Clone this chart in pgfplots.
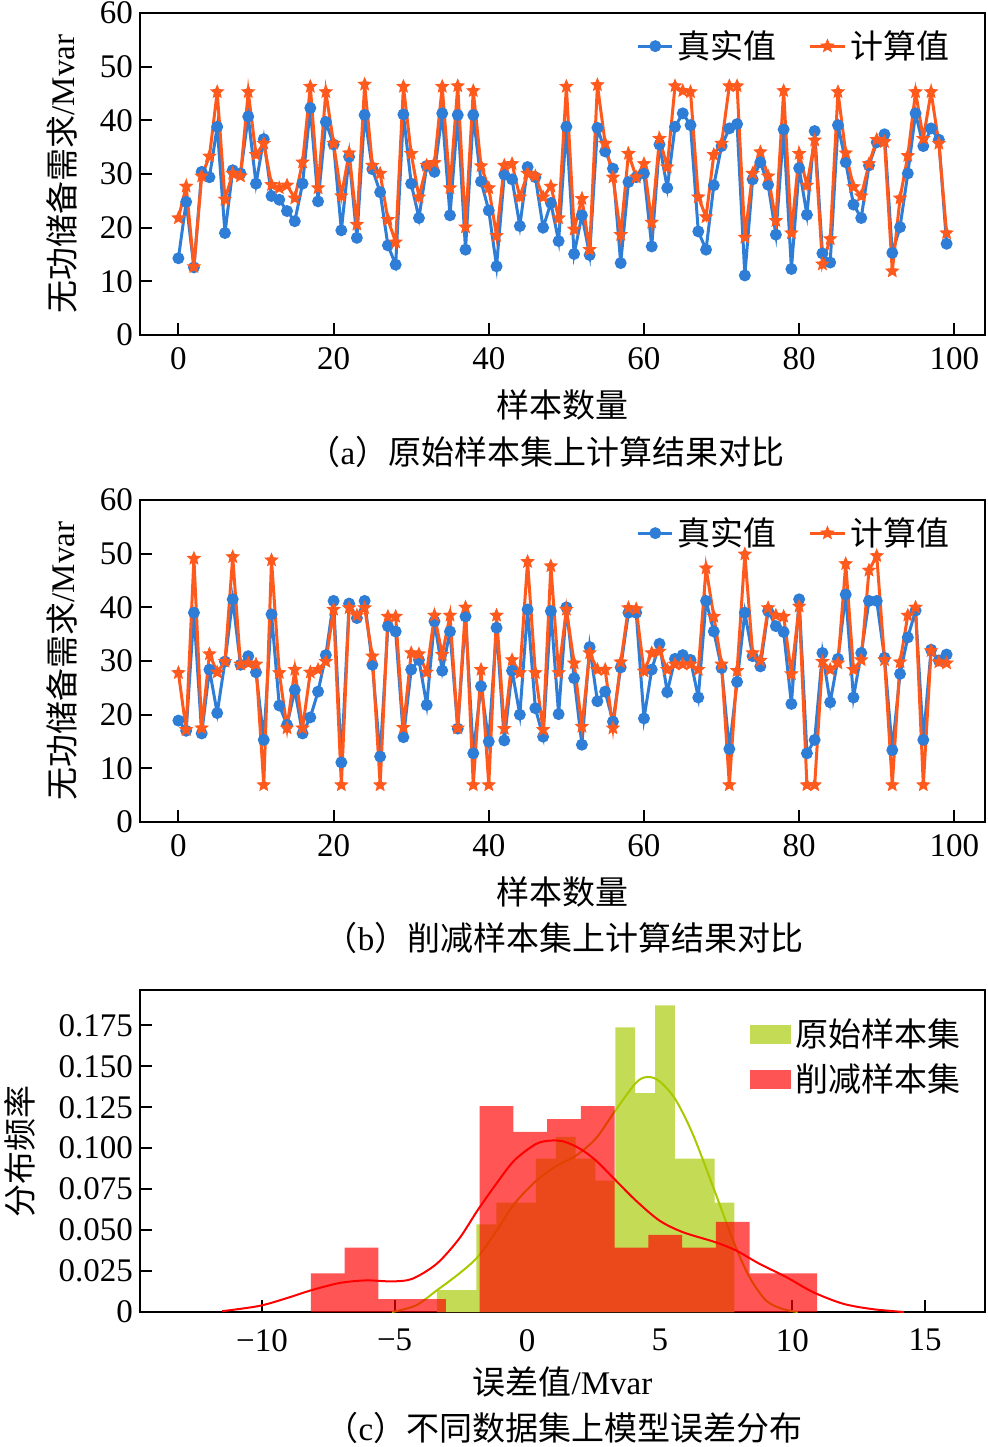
\documentclass[border=0pt]{standalone}
\usepackage{fontspec}
\setmainfont{Liberation Serif}
\newfontfamily\cjk{Noto Sans CJK SC}
\usepackage{pgfplots}
\usepackage{pgfplotstable}
\pgfplotsset{compat=1.18}
\definecolor{cblue}{RGB}{46,125,215}
\definecolor{corange}{RGB}{255,90,30}
\definecolor{hgreen}{RGB}{196,220,85}
\definecolor{kgreen}{RGB}{170,200,0}
\newcommand\fs{\fontsize{16.5}{19}\selectfont}

\pgfdeclareplotmark{fstar}{%
  \pgfpathmoveto{\pgfqpointpolar{90}{\pgfplotmarksize}}%
  \pgfpathlineto{\pgfqpointpolar{126}{0.45\pgfplotmarksize}}%
  \pgfpathlineto{\pgfqpointpolar{162}{\pgfplotmarksize}}%
  \pgfpathlineto{\pgfqpointpolar{198}{0.45\pgfplotmarksize}}%
  \pgfpathlineto{\pgfqpointpolar{234}{\pgfplotmarksize}}%
  \pgfpathlineto{\pgfqpointpolar{270}{0.45\pgfplotmarksize}}%
  \pgfpathlineto{\pgfqpointpolar{306}{\pgfplotmarksize}}%
  \pgfpathlineto{\pgfqpointpolar{342}{0.45\pgfplotmarksize}}%
  \pgfpathlineto{\pgfqpointpolar{18}{\pgfplotmarksize}}%
  \pgfpathlineto{\pgfqpointpolar{54}{0.45\pgfplotmarksize}}%
  \pgfpathclose
  \pgfusepathqfillstroke
}

\pgfplotstableread{
x at ac bt bc
0 14.3 21.8 18.9 27.8
1 24.8 27.7 17.0 17.2
2 12.6 12.7 39.0 49.1
3 30.4 29.6 16.5 17.5
4 29.4 33.3 28.4 31.3
5 38.8 45.3 20.3 27.9
6 19.0 25.3 29.9 29.9
7 30.7 30.1 41.5 49.4
8 30.1 29.6 29.3 29.4
9 40.7 45.3 30.9 29.6
10 28.2 33.6 27.9 29.4
11 36.5 35.7 15.3 6.9
12 25.9 28.0 38.7 48.8
13 25.2 27.4 21.7 27.8
14 23.1 27.9 18.1 17.5
15 21.2 25.5 24.6 28.4
16 28.2 32.2 16.5 17.5
17 42.3 46.3 19.5 27.9
18 24.9 27.4 24.3 28.4
19 39.7 45.3 31.1 29.9
20 35.5 35.7 41.2 39.6
21 19.5 25.9 11.1 6.9
22 33.2 33.9 40.7 39.9
23 18.1 20.6 38.0 38.5
24 41.0 46.7 41.2 39.9
25 30.9 31.6 29.3 30.9
26 26.6 30.1 12.2 6.9
27 16.7 21.5 36.5 38.3
28 13.1 17.3 35.5 38.3
29 41.1 46.3 15.8 17.6
30 28.2 33.8 28.4 31.5
31 21.8 25.7 30.2 31.3
32 31.5 31.6 21.8 27.9
33 30.4 32.1 37.4 38.5
34 41.3 46.3 28.2 31.2
35 22.3 27.4 35.5 38.5
36 41.0 46.4 17.4 17.5
37 15.9 20.1 38.3 40.0
38 41.0 45.5 12.8 6.9
39 28.6 31.5 25.3 28.4
40 23.2 27.4 15.0 6.9
41 12.8 18.5 36.2 38.5
42 29.9 31.6 15.2 17.4
43 29.0 31.9 28.2 30.2
44 20.3 25.7 20.0 27.8
45 31.3 30.1 39.6 48.5
46 29.4 29.6 21.2 27.8
47 20.0 25.7 15.9 17.2
48 24.6 27.7 39.3 47.7
49 17.5 21.8 20.1 27.8
50 38.8 46.3 40.0 39.6
51 15.1 19.7 26.8 29.6
52 22.3 25.4 14.4 17.8
53 14.9 15.9 32.6 31.5
54 38.6 46.6 22.5 28.4
55 34.2 35.7 24.3 28.4
56 31.0 29.4 18.7 17.5
57 13.4 18.7 28.8 29.8
58 28.5 33.8 39.0 39.9
59 29.4 29.4 39.0 39.7
60 30.1 31.9 19.3 28.1
61 16.5 21.0 28.4 31.5
62 35.5 36.6 33.2 31.8
63 27.4 31.3 24.2 28.4
64 38.8 46.4 30.4 29.4
65 41.3 45.5 31.1 29.4
66 39.1 45.3 30.2 29.4
67 19.3 25.7 23.2 28.4
68 15.9 22.0 41.2 47.3
69 27.9 33.6 35.5 38.3
70 35.2 35.7 28.7 29.4
71 38.5 46.4 13.6 6.9
72 39.3 46.4 26.1 28.2
73 11.1 18.2 39.0 49.9
74 29.0 30.1 30.9 31.5
75 32.2 34.1 29.0 30.1
76 28.0 29.6 39.3 39.9
77 18.7 21.3 36.5 38.5
78 38.3 45.5 35.4 38.3
79 12.3 19.0 22.0 27.6
80 31.1 33.8 41.5 40.2
81 22.4 27.9 12.8 6.9
82 38.0 36.3 15.3 6.9
83 15.2 13.2 31.5 29.9
84 13.5 17.9 22.3 28.4
85 39.1 45.3 30.4 29.6
86 32.2 33.9 42.4 48.1
87 24.3 27.6 23.2 28.4
88 21.8 25.9 31.5 30.2
89 31.6 31.9 41.2 46.9
90 35.9 36.4 41.2 49.6
91 37.4 36.0 30.6 30.2
92 15.3 11.9 13.4 6.9
93 20.1 25.5 27.6 29.8
94 30.1 33.4 34.4 38.5
95 41.3 45.3 39.4 40.0
96 35.2 36.6 15.3 6.9
97 38.5 45.3 32.1 31.9
98 36.4 35.7 30.1 29.8
99 17.0 19.0 31.2 29.6
}\data

\pgfplotsset{
  base/.style={scale only axis, width=422.5pt, height=161pt, anchor=north west,
    axis line style={line width=1pt}, tick align=inside, xtick pos=left, ytick pos=left,
    major tick length=6pt, every tick/.style={black, line width=1pt},
    tick label style={font=\fs}, label style={font=\fs},
    /pgf/number format/assume math mode=true},
  lineax/.style={base, xmin=-4.95, xmax=103.95, ymin=0, ymax=60,
    xtick={0,20,40,60,80,100}, ytick={0,10,20,30,40,50,60},
    xticklabel style={yshift=-2.5pt},
    xlabel={\cjk 样本数量}, ylabel={{\cjk 无功储备需求}/Mvar},
    xlabel style={at={(axis description cs:0.5,-0.2174)}, anchor=center},
    ylabel style={at={(axis description cs:-0.0923,0.5)}, anchor=center},
    legend style={at={(rel axis cs:0.965,0.965)}, anchor=north east, draw=none, fill=none,
      font=\fs, inner sep=1pt},
    legend columns=2,
    legend cell align=left,
    /tikz/every even column/.append style={column sep=14pt}},
  sb/.style={cblue, line width=1.5pt, mark=*, mark size=2.2pt, mark options={solid, fill=cblue, draw=cblue}},
  so/.style={corange, line width=1.5pt, mark=fstar, mark size=3.2pt, mark options={solid, fill=corange, line width=0.5pt}}
}

\begin{document}
\begin{tikzpicture}
\useasboundingbox (0,0) rectangle (493.5pt,-723.5pt);

\begin{axis}[lineax, at={(70pt,-6.5pt)}]
\addplot[sb] table[x=x,y=at]{\data};
\addlegendentry{\cjk 真实值}
\addplot[so] table[x=x,y=ac]{\data};
\addlegendentry{\cjk 计算值}
\end{axis}
\node[font=\fs] at (273pt,-226pt) {{\cjk （}a{\cjk ）原始样本集上计算结果对比}};

\begin{axis}[lineax, at={(70pt,-250pt)}]
\addplot[sb] table[x=x,y=bt]{\data};
\addlegendentry{\cjk 真实值}
\addplot[so] table[x=x,y=bc]{\data};
\addlegendentry{\cjk 计算值}
\end{axis}
\node[font=\fs] at (282pt,-469pt) {{\cjk （}b{\cjk ）削减样本集上计算结果对比}};

\begin{axis}[base, at={(70pt,-495pt)}, xmin=-14.6, xmax=17.26, ymin=0, ymax=0.1966,
  xtick={-10,-5,0,5,10,15}, xticklabels={−10,−5,0,5,10,15},
  xticklabel style={yshift=-5pt},
  ytick={0,0.025,0.05,0.075,0.1,0.125,0.15,0.175},
  yticklabels={0,0.025,0.050,0.075,0.100,0.125,0.150,0.175},
  scaled y ticks=false,
  xlabel={{\cjk 误差值}/Mvar}, ylabel={\cjk 分布频率},
  xlabel style={at={(axis description cs:0.5,-0.2174)}, anchor=center},
  ylabel style={at={(axis description cs:-0.142,0.5)}, anchor=center},
  legend style={at={(rel axis cs:0.978,0.93)}, anchor=north east, draw=none, fill=none,
    font=\fs, inner sep=1pt, row sep=3pt},
  legend cell align=left]
\addplot[ybar interval, fill=hgreen, draw=none, forget plot] coordinates {
 (-3.41,0.0134) (-2.662,0.0134) (-1.914,0.0535) (-1.166,0.0668) (-0.418,0.0668)
 (0.33,0.0936) (1.078,0.1070) (1.826,0.0936) (2.574,0.0802) (3.322,0.1738)
 (4.07,0.1337) (4.818,0.1872) (5.566,0.0936) (6.314,0.0936) (7.062,0.0668) (7.81,0)};
\addplot[kgreen, line width=1pt, smooth, forget plot] coordinates {
 (-5.1,0.000) (-4.2,0.004) (-3.41,0.0132) (-2.57,0.0234) (-1.875,0.0335) (-1.18,0.049)
 (-0.49,0.066) (0.33,0.080) (1.08,0.089) (1.84,0.0955) (2.59,0.106) (3.28,0.122)
 (4.10,0.140) (4.54,0.1435) (4.98,0.141) (5.58,0.130) (6.24,0.1087) (7.06,0.0742)
 (7.81,0.0417) (8.38,0.0213) (9.0,0.0071) (9.6,0.002) (10.2,0.000)};
\addplot[ybar interval, fill=red, fill opacity=0.667, draw=none, forget plot] coordinates {
 (-8.16,0.0236) (-6.887,0.0393) (-5.614,0.0079) (-4.341,0.0079) (-3.068,0)
 (-1.795,0.1257) (-0.522,0.1100) (0.751,0.1178) (2.024,0.1257) (3.297,0.0393)
 (4.57,0.0471) (5.843,0.0393) (7.116,0.0550) (8.389,0.0236) (9.662,0.0236) (10.935,0)};
\addplot[red, line width=1pt, smooth, forget plot] coordinates {
 (-11.5,0.0005) (-10.11,0.0037) (-9.1,0.0083) (-8.16,0.0132) (-7.08,0.0177) (-6.09,0.0193)
 (-5.09,0.0187) (-4.33,0.0203) (-3.41,0.0295) (-2.57,0.0447) (-1.875,0.062) (-1.18,0.078)
 (-0.49,0.0925) (0.33,0.1026) (0.9,0.1047) (1.4,0.104) (2.0,0.0996) (2.59,0.0925)
 (3.28,0.0813) (4.10,0.068) (4.98,0.0559) (5.86,0.0488) (7.08,0.0427) (7.87,0.0376)
 (8.75,0.0295) (9.77,0.0213) (10.77,0.0122) (11.9,0.0051) (13.0,0.0018) (14.2,0.000)};
\addlegendimage{legend image code/.code={\fill[hgreen] (0pt,-4.5pt) rectangle (20pt,4.5pt);}}
\addlegendentry{\cjk 原始样本集}
\addlegendimage{legend image code/.code={\fill[red!67] (0pt,-4.5pt) rectangle (20pt,4.5pt);}}
\addlegendentry{\cjk 削减样本集}
\end{axis}
\node[font=\fs] at (282pt,-714pt) {{\cjk （}c{\cjk ）不同数据集上模型误差分布}};
\end{tikzpicture}
\end{document}
